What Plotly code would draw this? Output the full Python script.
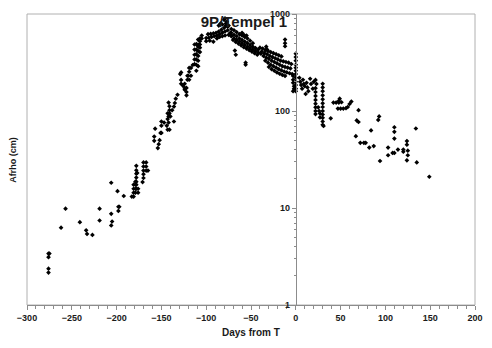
import plotly.graph_objects as go

# --- data: days from perihelion (T) and Afrho (cm) ---
rise_days = [-276, -275, -276, -276, -276, -262, -257, -241, -234, -233, -227, -219, -219,
             -206, -206, -205, -206, -199, -198, -197, -198, -192,
             -183, -181, -181, -181, -181, -179, -179, -179, -179, -177, -176, -176,
             -178, -178, -178, -178, -178, -178, -178,
             -171, -170, -170, -170, -170, -170, -167, -167, -167, -165]
rise_vals = [3.39, 3.39, 3.11, 2.37, 2.16, 6.27, 9.84, 7.15, 5.89, 5.4, 5.28, 9.84, 7.43,
             18.2, 8.7, 7.26, 6.62, 14.9, 10.3, 10.3, 9.33, 13.3,
             13.1, 13.1, 14.4, 15.8, 17.4, 14.4, 15.8, 17.4, 18.7, 23.0, 15.8, 14.4,
             15.8, 17.4, 18.7, 20.6, 22.6, 24.5, 27.2,
             18.5, 20.4, 22.3, 24.3, 26.8, 29.5, 24.3, 26.8, 29.5, 24.3]

climb_days = [-158, -153, -154, -152, -158, -151, -150, -157, -150, -143, -141, -144,
              -147, -142, -150, -143, -136, -142, -140, -143, -141, -141, -138, -136,
              -141, -135, -142, -134, -132,
              -129, -128, -128, -128, -126, -124, -124, -124, -122, -122, -122,
              -121, -121, -119, -119, -119, -120, -117, -117, -115,
              -113, -113, -113, -113, -113, -111, -111, -111, -111, -111, -111,
              -109, -109, -109, -109, -109, -109, -109,
              -107, -107, -107, -107, -107, -105, -105]
climb_vals = [49.3, 45.5, 41.5, 50, 54.5, 59.4, 59.4, 65.8, 70.6, 64.2, 64.2, 70.6,
              76, 76, 78, 82.6, 78, 88, 88, 94.7, 94.7, 102, 102, 111,
              112, 121, 122, 134, 147,
              240, 250, 191, 209, 183, 166, 173, 191, 145, 157, 173,
              210, 231, 210, 254, 278, 231, 231, 278, 298,
              304, 340, 380, 430, 485, 260, 300, 340, 385, 430, 490,
              290, 330, 370, 415, 460, 485, 545,
              405, 450, 485, 525, 560, 560, 600]

peak_days = [-98, -95, -92, -89, -86, -83, -80, -78, -76,
             -100, -97, -94, -91, -88, -85, -82, -79, -76, -73,
             -100, -96, -92, -88, -85, -82, -79, -75, -72,
             -80, -84, -82, -78, -86, -79, -77, -75]
peak_vals = [620, 625, 630, 640, 660, 690, 720, 760, 740,
             565, 570, 580, 590, 600, 620, 640, 660, 680, 640,
             525, 530, 518, 560, 580, 590, 600, 610, 600,
             870, 800, 780, 800, 760, 900, 830, 760]

decl_days = [-72, -69, -66, -63, -60, -57, -54, -51, -48,
             -72, -69, -66, -63, -60, -57, -54, -51, -48, -45, -42,
             -72, -69, -66, -63, -60, -57, -54, -51, -48, -45, -42, -39,
             -70, -67, -64, -61, -58, -55, -52, -49, -46, -43,
             -68, -67, -56, -56, -60, -58, -55]
decl_vals = [700, 680, 650, 620, 600, 580, 560, 530, 500,
             640, 610, 590, 560, 540, 520, 500, 480, 460, 445, 430,
             590, 560, 540, 520, 500, 480, 460, 445, 430, 415, 400, 390,
             540, 515, 495, 475, 455, 440, 425, 410, 395, 380,
             420, 380, 315, 300, 640, 610, 600]

near_days = [-40, -37, -34, -31, -28, -25, -22, -19, -16,
             -38, -35, -32, -29, -26, -23, -20, -17, -14, -11, -8, -5,
             -36, -33, -30, -27, -24, -21, -18, -15, -12, -9, -6,
             -34, -31, -28, -25, -22, -19, -16, -13, -10, -7, -4,
             -30, -27, -24, -21, -18, -15, -12,
             -12, -12, -12, -33, -32,
             -3, -3, -3, -2, -2, -3,
             0, 0, 0, 0, 0, 0, 0, 0, 0, 0, 0, 0]
near_vals = [450, 440, 425, 415, 405, 395, 385, 375, 365,
             410, 395, 385, 370, 360, 350, 340, 330, 325, 320, 315, 305,
             370, 355, 345, 330, 320, 310, 300, 290, 285, 280, 275,
             330, 315, 300, 290, 280, 270, 262, 255, 250, 245, 240,
             285, 270, 260, 250, 242, 235, 230,
             545, 500, 465, 460, 430,
             230, 210, 195, 180, 170, 160,
             390, 360, 330, 300, 280, 260, 240, 220, 200, 185, 170, 160]

post_days = [4, 5, 6, 8, 9, 7, 10, 12, 13, 14, 11, 16, 17, 19, 20, 22, 23,
             22, 22, 22, 22, 22, 22, 22, 22,
             30, 30, 30, 30, 30, 30, 30, 30, 30, 30, 30, 30, 31,
             25, 26, 27, 27, 39,
             42, 45, 48, 51, 48, 49,
             53, 56, 58, 60, 62, 47, 50,
             70, 68, 70, 67, 72, 76, 78, 82, 87, 84, 92, 93, 94,
             103, 103, 108, 110, 110, 110, 110, 114, 120, 120,
             124, 124, 125, 125, 124, 134, 135, 149]
post_vals = [220, 200, 185, 210, 190, 170, 180, 195, 175, 160, 150, 215, 190, 170, 200, 209, 190,
             172, 157, 143, 130, 119, 109, 100, 93,
             191, 175, 160, 145, 132, 120, 110, 100, 92, 85, 78, 72, 70,
             109, 100, 94, 86, 84,
             122, 122, 122, 123, 127, 134,
             106, 107, 110, 118, 125, 106, 106,
             102, 80, 77, 55, 47, 47, 47, 42, 43.5, 63, 81, 88, 30.5,
             42, 35, 37, 37, 68, 61, 52, 40, 40, 38,
             49, 45, 39, 35, 31, 66, 29.5, 21]

days = rise_days + climb_days + peak_days + decl_days + near_days + post_days
afrho = rise_vals + climb_vals + peak_vals + decl_vals + near_vals + post_vals

x_ticks = [-300, -250, -200, -150, -100, -50, 0, 50, 100, 150, 200]
y_ticks = [1, 10, 100, 1000]
y_minor = [m * 10 ** e for e in range(3) for m in range(2, 10)]

FONT = "Liberation Sans, Arial, sans-serif"
TXT = "#1a1a1a"
AX = "#8c8c8c"

fig = go.Figure()
fig.add_trace(go.Scatter(
    x=days, y=afrho, mode="markers",
    marker=dict(symbol="diamond", size=3.6, color="black", line=dict(width=0)),
    showlegend=False, hoverinfo="skip"))

fig.update_layout(
    width=492, height=348,
    margin=dict(l=27, r=12, t=9, b=43),
    paper_bgcolor="white", plot_bgcolor="white",
    font=dict(family=FONT, size=9, color=TXT, weight="bold"),
    title=dict(text="9P/Tempel 1", x=244 / 492, xref="container", xanchor="center",
               y=1 - 22 / 348, yref="container", yanchor="middle",
               font=dict(family=FONT, size=15, color=TXT, weight="bold")),
    xaxis=dict(range=[-300, 200], tickvals=x_ticks, ticks="outside", ticklen=4,
               tickcolor=AX, showline=True, linecolor=AX, linewidth=1,
               showgrid=False, zeroline=False,
               minor=dict(dtick=10, tick0=0, ticks="outside", ticklen=3, tickcolor=AX),
               tickfont=dict(family=FONT, size=9, color=TXT, weight="bold")),
    yaxis=dict(type="log", range=[0, 3], tickvals=y_ticks, ticktext=[str(v) for v in y_ticks],
               anchor="free", position=0.6, side="left",
               ticks="outside", ticklen=4, tickcolor=AX,
               showline=True, linecolor=AX, linewidth=1,
               showgrid=False, zeroline=False,
               minor=dict(tickvals=y_minor, ticks="outside", ticklen=2, tickcolor=AX),
               tickfont=dict(family=FONT, size=9, color=TXT, weight="bold")),
    shapes=[dict(type="rect", xref="paper", yref="paper", x0=0, x1=1, y0=0, y1=1,
                 line=dict(color="#b0b0b0", width=1), layer="below")],
    annotations=[
        dict(text="Afrho (cm)", xref="paper", yref="paper", x=-15 / 453, y=0.5,
             textangle=-90, showarrow=False, xanchor="center", yanchor="middle",
             font=dict(family=FONT, size=9, color=TXT, weight="bold")),
        dict(text="Days from T", xref="paper", yref="paper", x=0.5, y=-28 / 296,
             showarrow=False, xanchor="center", yanchor="middle",
             font=dict(family=FONT, size=10, color=TXT, weight="bold")),
    ],
)

fig.write_html("out.html")
